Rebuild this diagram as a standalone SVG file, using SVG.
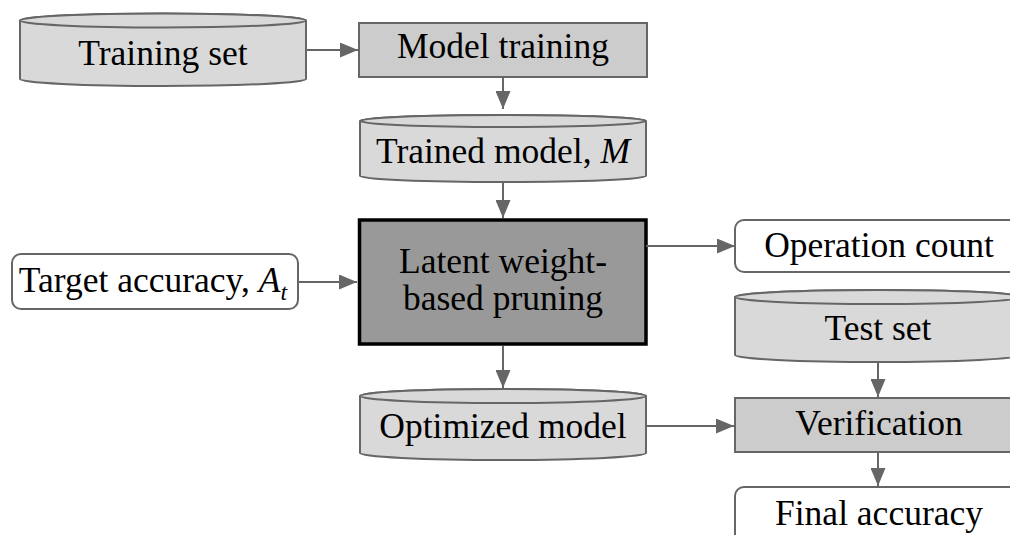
<svg xmlns="http://www.w3.org/2000/svg" width="1010" height="535" viewBox="0 0 1010 535">
<style>
.t{font-family:"Liberation Serif",serif;font-size:35.5px;fill:#000;text-anchor:middle}
.cyl{fill:#d9d9d9;stroke:#666;stroke-width:2}
.proc{fill:#cccccc;stroke:#666;stroke-width:2}
.term{fill:#fff;stroke:#666;stroke-width:2}
.main{fill:#999;stroke:#000;stroke-width:3.5}
.conn{stroke:#666;stroke-width:2;fill:none;marker-end:url(#ah)}
</style>
<defs>
<marker id="ah" markerUnits="userSpaceOnUse" markerWidth="18" markerHeight="15" refX="18" refY="7.5" orient="auto">
<path d="M0,0 L18,7.5 L0,15 z" fill="#666"/>
</marker>
</defs>
<rect width="1010" height="535" fill="#fff"/>
<g id="training-set">
<path class="cyl" d="M20,20.5 V79 A143,7 0 0 0 306,79 V20.5 A143,7 0 0 0 20,20.5 Z"/>
<ellipse class="cyl" cx="163" cy="20.5" rx="143" ry="7"/>
<text class="t" x="163" y="65">Training set</text>
</g>
<g id="model-training">
<rect class="proc" x="359" y="23" width="288" height="54"/>
<text class="t" x="503" y="58">Model training</text>
</g>
<g id="trained-model">
<path class="cyl" d="M360,121 V176 A143,6 0 0 0 646,176 V121 A143,6 0 0 0 360,121 Z"/>
<ellipse class="cyl" cx="503" cy="121" rx="143" ry="6"/>
<text class="t" x="503" y="163">Trained model, <tspan font-style="italic">M</tspan></text>
</g>
<g id="latent-pruning">
<rect class="main" x="359.5" y="220" width="286.5" height="124"/>
<text class="t" x="503" y="273">Latent weight-</text>
<text class="t" x="503" y="310">based pruning</text>
</g>
<g id="target-accuracy">
<rect class="term" x="12" y="254" width="286" height="55" rx="9"/>
<text class="t" x="153" y="292">Target accuracy, <tspan font-style="italic">A</tspan><tspan font-style="italic" font-size="24" dy="8">t</tspan></text>
</g>
<g id="operation-count">
<rect class="term" x="735" y="220" width="288" height="52" rx="9"/>
<text class="t" x="879" y="257">Operation count</text>
</g>
<g id="test-set">
<path class="cyl" d="M735,297 V355 A143,7 0 0 0 1021,355 V297 A143,7 0 0 0 735,297 Z"/>
<ellipse class="cyl" cx="878" cy="297" rx="143" ry="7"/>
<text class="t" x="878" y="340">Test set</text>
</g>
<g id="optimized-model">
<path class="cyl" d="M360,396 V453 A143,7 0 0 0 646,453 V396 A143,7 0 0 0 360,396 Z"/>
<ellipse class="cyl" cx="503" cy="396" rx="143" ry="7"/>
<text class="t" x="503" y="438">Optimized model</text>
</g>
<g id="verification">
<rect class="proc" x="735" y="398" width="288" height="54"/>
<text class="t" x="879" y="435">Verification</text>
</g>
<g id="final-accuracy">
<rect class="term" x="735" y="487" width="288" height="60" rx="9"/>
<text class="t" x="879" y="525">Final accuracy</text>
</g>
<g id="connectors">
<line class="conn" x1="306" y1="50" x2="358" y2="50"/>
<line class="conn" x1="503" y1="77" x2="503" y2="109"/>
<line class="conn" x1="503" y1="183" x2="503" y2="218"/>
<line class="conn" x1="298" y1="282" x2="357" y2="282"/>
<line class="conn" x1="646" y1="246" x2="735" y2="246"/>
<line class="conn" x1="503" y1="346" x2="503" y2="388"/>
<line class="conn" x1="646" y1="426" x2="734" y2="426"/>
<line class="conn" x1="878" y1="363" x2="878" y2="397"/>
<line class="conn" x1="878" y1="452" x2="878" y2="486"/>
</g>
</svg>
